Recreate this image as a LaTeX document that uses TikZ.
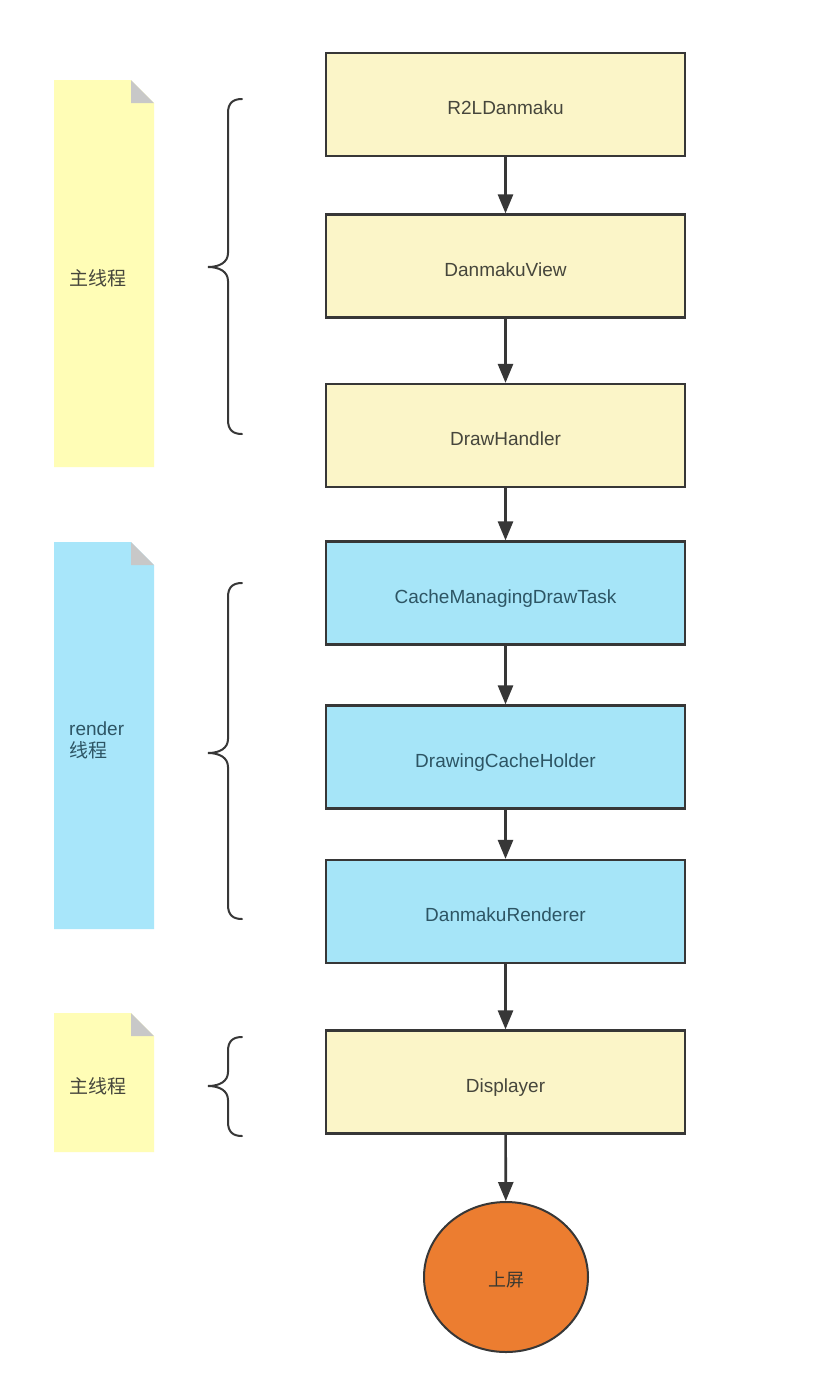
\documentclass[tikz,border=0pt]{standalone}
\usepackage{fontspec}
\setmainfont{Liberation Sans}
\newfontfamily\cjk{Noto Sans CJK SC}
\usetikzlibrary{arrows.meta,shapes.geometric}
\definecolor{boxyellow}{RGB}{251,245,200}
\definecolor{noteyellow}{RGB}{255,253,182}
\definecolor{boxblue}{RGB}{166,229,248}
\definecolor{noteblue}{RGB}{168,230,250}
\definecolor{circorange}{RGB}{236,125,48}
\definecolor{edgegray}{RGB}{55,55,55}
\definecolor{foldgray}{RGB}{200,200,200}
\definecolor{txtgray}{RGB}{70,70,60}
\definecolor{txtblue}{RGB}{45,85,100}
\newcommand\threadbrace[3]{%
  \draw[bracestyle] (242,#1) .. controls (233,#1) and (228,#1+4) .. (228,#1+14)
    -- (228,#2-14) .. controls (228,#2-5) and (220,#2) .. (208,#2)
    .. controls (220,#2) and (228,#2+5) .. (228,#2+14)
    -- (228,#3-14) .. controls (228,#3-4) and (233,#3) .. (242,#3);}
\newcommand\stickynote[3]{%
  \fill[#3] (54,#1) -- (131,#1) -- (154,#1+23) -- (154,#2) -- (54,#2) -- cycle;
  \fill[foldgray] (131,#1) -- (154,#1+23) -- (131,#1+23) -- cycle;}
\begin{document}
\begin{tikzpicture}[x=1pt,y=-1pt,
  stepbox/.style={draw=edgegray,line width=2.2pt,minimum width=359pt,minimum height=103pt,
    inner sep=0pt,text height=20pt,text depth=0pt,font=\fontsize{19}{21}\selectfont},
  ybox/.style={stepbox,fill=boxyellow,text=txtgray},
  bbox/.style={stepbox,fill=boxblue,text=txtblue},
  flow/.style={draw=edgegray,line width=2.6pt,-{Triangle[length=19pt,width=15pt]}},
  bracestyle/.style={draw=edgegray,line width=2pt,line cap=round},
  notetext/.style={anchor=west,align=left,inner sep=0pt,font=\fontsize{19}{24}\selectfont}]
\useasboundingbox (0,0) rectangle (814,1374);
\fill[white] (0,0) rectangle (814,1374);
% sticky notes
\stickynote{80}{467}{noteyellow}
\stickynote{542}{929}{noteblue}
\stickynote{1013}{1152}{noteyellow}
\node[notetext,text=txtgray] (n1) at (69,278) {\cjk 主线程};
\node[notetext,text=txtblue] (n2) at (69,740) {render\\[-2pt]{\cjk 线程}};
\node[notetext,text=txtgray] (n3) at (69,1086) {\cjk 主线程};
% braces
\threadbrace{99}{267}{434}
\threadbrace{583}{753}{919}
\threadbrace{1037}{1086}{1136}
% boxes
\node[ybox] (a) at (505.5,104.5) {R2LDanmaku};
\node[ybox] (b) at (505.5,266) {DanmakuView};
\node[ybox] (c) at (505.5,435.5) {DrawHandler};
\node[bbox] (d) at (505.5,593) {CacheManagingDrawTask};
\node[bbox] (e) at (505.5,757) {DrawingCacheHolder};
\node[bbox] (f) at (505.5,911.5) {DanmakuRenderer};
\node[ybox] (g) at (505.5,1082) {Displayer};
\node[ellipse,draw=edgegray,line width=2pt,fill=circorange,minimum width=164pt,minimum height=150pt,
  inner sep=0pt,text height=18pt,text depth=0pt,text=txtgray!80!black,
  font=\cjk\fontsize{18}{20}\selectfont] (h) at (506,1277) {上屏};
% connectors
\draw[flow] (a) -- (b);
\draw[flow] (b) -- (c);
\draw[flow] (c) -- (d);
\draw[flow] (d) -- (e);
\draw[flow] (e) -- (f);
\draw[flow] (f) -- (g);
\draw[flow] (g) -- (h);
\end{tikzpicture}
\end{document}
